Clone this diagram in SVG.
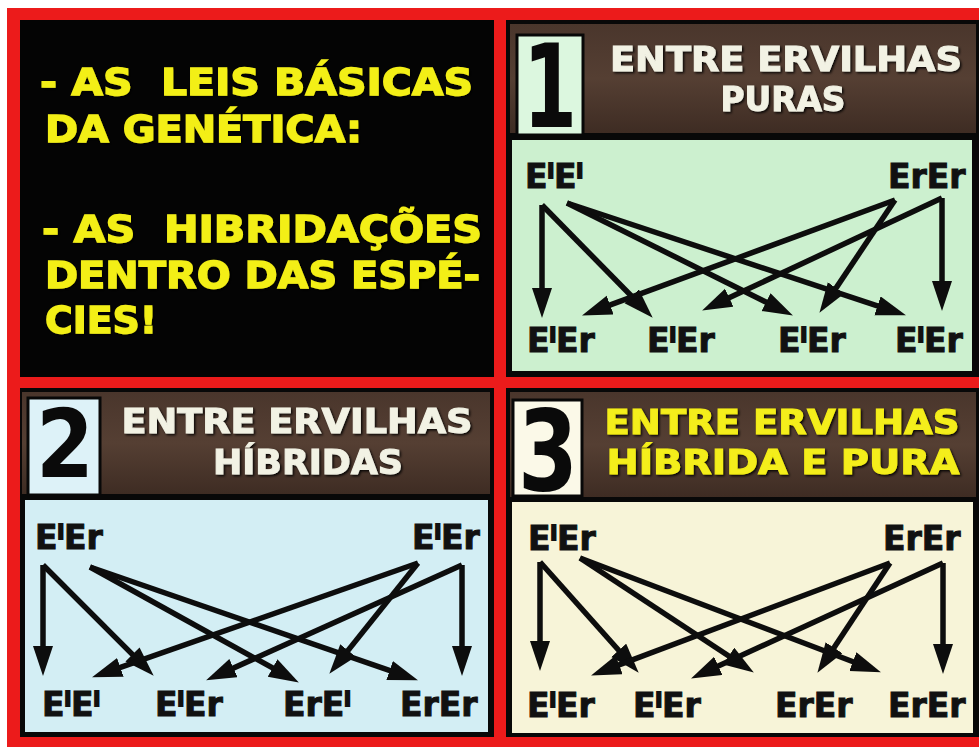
<svg xmlns="http://www.w3.org/2000/svg" width="979" height="747" viewBox="0 0 979 747">
<defs>
<style>
.lb{font-family:"DejaVu Sans",Verdana,sans-serif;font-weight:bold;font-size:33px;fill:#111;stroke:#111;stroke-width:1}
.sp{font-size:19px;stroke-width:2}
.hd{font-family:"DejaVu Sans",Verdana,sans-serif;font-weight:bold;font-size:34px;fill:#f2f2e4;stroke:#f2f2e4;stroke-width:1;filter:url(#sh)}
.hdy{fill:#f4ee1a;stroke:#f4ee1a}
.tt{font-family:"DejaVu Sans",Verdana,sans-serif;font-weight:bold;font-size:37px;fill:#f3ef18;stroke:#f3ef18;stroke-width:1.3;white-space:pre;filter:url(#sh)}
.num{font-family:"DejaVu Sans",Verdana,sans-serif;font-weight:bold;fill:#0a0a0a;text-anchor:middle}
.ar{stroke:#0d0d0d;stroke-width:5.5;fill:none;marker-end:url(#ah)}
.frame{fill:#080808}
.wood{fill:url(#wd)}
</style>
<filter id="sh" x="-5%" y="-20%" width="110%" height="140%">
<feDropShadow dx="1.5" dy="1.5" stdDeviation="1.2" flood-color="#000" flood-opacity="0.9"/>
</filter>
<linearGradient id="wd" x1="0" y1="0" x2="0" y2="1">
<stop offset="0" stop-color="#4a362c"/>
<stop offset="0.5" stop-color="#553f33"/>
<stop offset="1" stop-color="#3e2c23"/>
</linearGradient>
<marker id="ah" markerUnits="userSpaceOnUse" markerWidth="32" markerHeight="22" refX="15" refY="10" orient="auto">
<path d="M0,0 L30,10 L0,20 z" fill="#0d0d0d"/>
</marker>
</defs>
<rect width="979" height="747" fill="#ffffff"/>
<rect x="7" y="8" width="972" height="739" fill="#ec1b1b"/>

<g id="title">
<rect x="20" y="20" width="474" height="357" fill="#040404"/>
<text class="tt" x="40" y="95" textLength="433" lengthAdjust="spacingAndGlyphs">- AS  LEIS BÁSICAS</text>
<text class="tt" x="45" y="142" textLength="317" lengthAdjust="spacingAndGlyphs">DA GENÉTICA:</text>
<text class="tt" x="42" y="242" textLength="440" lengthAdjust="spacingAndGlyphs">- AS  HIBRIDAÇÕES</text>
<text class="tt" x="45" y="288" textLength="435" lengthAdjust="spacingAndGlyphs">DENTRO DAS ESPÉ-</text>
<text class="tt" x="45" y="333" textLength="112" lengthAdjust="spacingAndGlyphs">CIES!</text>
</g>

<g id="panel1">
<rect class="frame" x="506" y="20" width="473" height="357"/>
<rect class="wood" x="510" y="24" width="466" height="109"/>
<rect x="517" y="35" width="66" height="100" fill="#dcf7df" stroke="#080808" stroke-width="3"/>
<text class="num" x="550" y="127" font-size="115" textLength="54" lengthAdjust="spacingAndGlyphs">1</text>
<text class="hd" x="786" y="71" text-anchor="middle" textLength="352" lengthAdjust="spacingAndGlyphs">ENTRE ERVILHAS</text>
<text class="hd" x="783" y="111" text-anchor="middle" textLength="125" lengthAdjust="spacingAndGlyphs">PURAS</text>
<rect x="512" y="140" width="460" height="231" fill="#ccf0cf"/>
</g>

<g id="panel2">
<rect class="frame" x="20" y="388" width="474" height="349"/>
<rect class="wood" x="22" y="392" width="468" height="102"/>
<rect x="28" y="398" width="72" height="97" fill="#ddf2f8" stroke="#080808" stroke-width="3"/>
<text class="num" x="65" y="477" font-size="95" textLength="58" lengthAdjust="spacingAndGlyphs">2</text>
<text class="hd" x="297" y="433" text-anchor="middle" textLength="351" lengthAdjust="spacingAndGlyphs">ENTRE ERVILHAS</text>
<text class="hd" x="308" y="474" text-anchor="middle" textLength="190" lengthAdjust="spacingAndGlyphs">HÍBRIDAS</text>
<rect x="25" y="500" width="463" height="232" fill="#d3eef4"/>
</g>

<g id="panel3">
<rect class="frame" x="506" y="388" width="473" height="349"/>
<rect class="wood" x="510" y="392" width="466" height="105"/>
<rect x="513" y="400" width="69" height="96" fill="#fbf9e8" stroke="#080808" stroke-width="3"/>
<text class="num" x="548" y="490" font-size="112" textLength="60" lengthAdjust="spacingAndGlyphs">3</text>
<text class="hd hdy" x="782" y="434" text-anchor="middle" textLength="355" lengthAdjust="spacingAndGlyphs">ENTRE ERVILHAS</text>
<text class="hd hdy" x="783" y="474" text-anchor="middle" textLength="353" lengthAdjust="spacingAndGlyphs">HÍBRIDA E PURA</text>
<rect x="512" y="502" width="461" height="231" fill="#f7f4d8"/>
</g>

<g id="connectors">
<path class="ar" d="M542,205 L542,303"/>
<path class="ar" d="M542,205 L642.2,307"/>
<path class="ar" d="M567,203 L779.5,308.8"/>
<path class="ar" d="M567,203 L891.7,310.6"/>
<path class="ar" d="M942,198 L942,296"/>
<path class="ar" d="M895,200 L596.1,310.2"/>
<path class="ar" d="M942,198 L715.7,304.1"/>
<path class="ar" d="M895,200 L827.8,300.4"/>

<path class="ar" d="M43,565 L43,661"/>
<path class="ar" d="M43,565 L143.1,665.1"/>
<path class="ar" d="M90,567 L285.7,675.2"/>
<path class="ar" d="M90,567 L403.8,675.4"/>
<path class="ar" d="M462,565 L462,661"/>
<path class="ar" d="M418,563 L106.2,672.4"/>
<path class="ar" d="M462,565 L219.8,674.2"/>
<path class="ar" d="M418,563 L338.7,662.1"/>

<path class="ar" d="M540,562 L540,656"/>
<path class="ar" d="M540,562 L628.7,661.5"/>
<path class="ar" d="M580,558 L741.3,664.3"/>
<path class="ar" d="M580,558 L866.9,667"/>
<path class="ar" d="M943,563 L943,659"/>
<path class="ar" d="M890,563 L605.1,670.1"/>
<path class="ar" d="M943,563 L704.7,672.2"/>
<path class="ar" d="M890,563 L825.7,660.3"/>
</g>

<g id="p1-parent-left"><text class="lb" x="525" y="188">E<tspan class="sp" dy="-10">l</tspan><tspan dy="10">E</tspan><tspan class="sp" dy="-10">l</tspan></text></g>
<g id="p1-parent-right"><text class="lb" x="888" y="188">ErEr</text></g>
<g id="p1-child-1"><text class="lb" x="527" y="352">E<tspan class="sp" dy="-10">l</tspan><tspan dy="10">Er</tspan></text></g>
<g id="p1-child-2"><text class="lb" x="647" y="352">E<tspan class="sp" dy="-10">l</tspan><tspan dy="10">Er</tspan></text></g>
<g id="p1-child-3"><text class="lb" x="778" y="352">E<tspan class="sp" dy="-10">l</tspan><tspan dy="10">Er</tspan></text></g>
<g id="p1-child-4"><text class="lb" x="895" y="352">E<tspan class="sp" dy="-10">l</tspan><tspan dy="10">Er</tspan></text></g>

<g id="p2-parent-left"><text class="lb" x="35" y="549">E<tspan class="sp" dy="-10">l</tspan><tspan dy="10">Er</tspan></text></g>
<g id="p2-parent-right"><text class="lb" x="412" y="549">E<tspan class="sp" dy="-10">l</tspan><tspan dy="10">Er</tspan></text></g>
<g id="p2-child-1"><text class="lb" x="42" y="716">E<tspan class="sp" dy="-10">l</tspan><tspan dy="10">E</tspan><tspan class="sp" dy="-10">l</tspan></text></g>
<g id="p2-child-2"><text class="lb" x="155" y="716">E<tspan class="sp" dy="-10">l</tspan><tspan dy="10">Er</tspan></text></g>
<g id="p2-child-3"><text class="lb" x="283" y="716">ErE<tspan class="sp" dy="-10">l</tspan></text></g>
<g id="p2-child-4"><text class="lb" x="400" y="716">ErEr</text></g>

<g id="p3-parent-left"><text class="lb" x="528" y="550">E<tspan class="sp" dy="-10">l</tspan><tspan dy="10">Er</tspan></text></g>
<g id="p3-parent-right"><text class="lb" x="883" y="550">ErEr</text></g>
<g id="p3-child-1"><text class="lb" x="527" y="717">E<tspan class="sp" dy="-10">l</tspan><tspan dy="10">Er</tspan></text></g>
<g id="p3-child-2"><text class="lb" x="633" y="717">E<tspan class="sp" dy="-10">l</tspan><tspan dy="10">Er</tspan></text></g>
<g id="p3-child-3"><text class="lb" x="775" y="717">ErEr</text></g>
<g id="p3-child-4"><text class="lb" x="888" y="717">ErEr</text></g>
</svg>
